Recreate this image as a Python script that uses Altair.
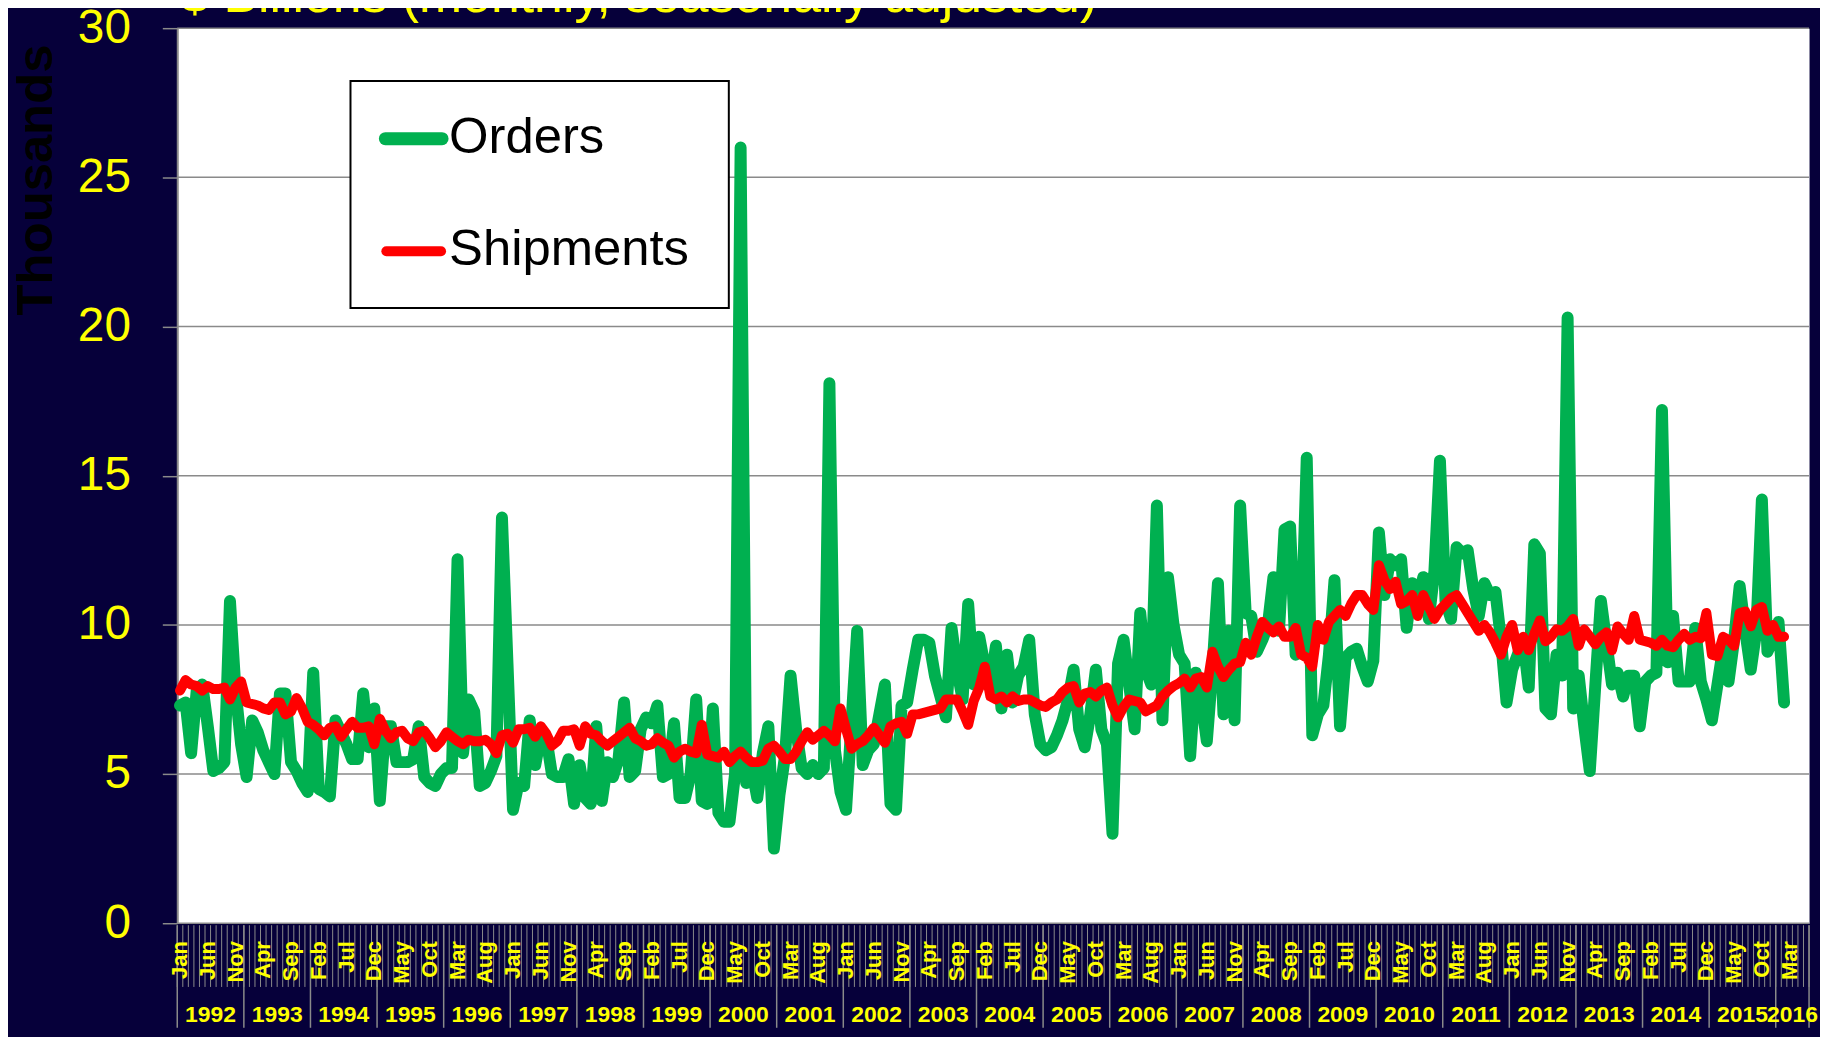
import altair as alt
import pandas as pd

# ---------------- data (monthly, Jan 1992 onward) ----------------
orders = [
    7.3, 7.4, 5.7, 7.8, 8.0, 6.6, 5.1, 5.2, 5.4, 10.8, 7.8, 6.0,      # 1992
    4.9, 6.8, 6.4, 5.8, 5.4, 5.0, 7.7, 7.7, 5.4, 5.1, 4.7, 4.4,       # 1993
    8.4, 4.5, 4.4, 4.25, 6.8, 6.4, 6.0, 5.5, 5.5, 7.7, 5.9, 7.2,      # 1994
    4.1, 6.6, 6.6, 5.4, 5.4, 5.4, 5.5, 6.6, 4.9, 4.7, 4.6, 5.0,       # 1995
    5.2, 5.2, 12.2, 5.7, 7.5, 7.1, 4.6, 4.7, 5.1, 5.6, 13.6, 8.7,     # 1996
    3.8, 4.7, 4.6, 6.8, 5.3, 6.3, 6.2, 5.0, 4.9, 4.9, 5.5, 4.0,       # 1997
    5.3, 4.2, 4.0, 6.6, 4.1, 5.4, 4.9, 5.5, 7.4, 4.9, 5.1, 6.5,       # 1998
    6.9, 6.7, 7.3, 4.9, 5.0, 6.7, 4.2, 4.2, 5.0, 7.5, 4.1, 4.0,       # 1999
    7.2, 3.7, 3.4, 3.4, 5.0, 26.0, 4.7, 5.2, 4.2, 5.7, 6.6, 2.5,      # 2000
    4.3, 5.6, 8.3, 6.5, 5.2, 5.0, 5.3, 5.0, 5.2, 18.1, 5.8, 4.4,      # 2001
    3.8, 6.8, 9.8, 5.3, 5.8, 6.0, 7.0, 8.0, 4.0, 3.8, 7.3, 7.4,       # 2002
    8.5, 9.5, 9.5, 9.4, 8.3, 7.6, 6.9, 9.9, 8.5, 7.5, 10.7, 8.0,      # 2003
    9.6, 8.6, 8.0, 9.3, 7.2, 9.0, 7.4, 8.3, 8.6, 9.5, 7.0, 6.0,       # 2004
    5.8, 5.9, 6.3, 6.8, 7.5, 8.5, 6.5, 5.9, 7.0, 8.5, 6.5, 6.0,       # 2005
    3.0, 8.7, 9.5, 8.0, 6.5, 10.4, 8.5, 8.0, 14.0, 6.8, 11.6, 10.0,   # 2006
    9.0, 8.7, 5.6, 8.4, 7.5, 6.1, 8.5, 11.4, 7.0, 9.8, 6.8, 14.0,     # 2007
    10.4, 10.3, 9.1, 9.5, 10.0, 11.6, 9.8, 13.2, 13.3, 9.0, 9.5, 15.6,  # 2008
    6.3, 7.0, 7.3, 9.0, 11.5, 6.6, 8.9, 9.1, 9.2, 8.6, 8.1, 8.8,      # 2009
    13.1, 11.0, 12.2, 12.0, 12.2, 9.9, 11.4, 10.8, 11.6, 10.2, 11.8, 15.5,  # 2010
    10.8, 10.2, 12.6, 12.4, 12.5, 11.2, 10.3, 11.4, 11.0, 11.1, 9.5, 7.4,   # 2011
    8.5, 9.0, 9.5, 7.9, 12.7, 12.4, 7.2, 7.0, 9.0, 8.3, 20.3, 7.2,    # 2012
    8.3, 6.6, 5.1, 8.0, 10.8, 9.4, 8.0, 8.4, 7.6, 8.3, 8.3, 6.6,      # 2013
    8.1, 8.3, 8.4, 17.2, 8.75, 10.3, 8.1, 8.1, 8.1, 9.9, 8.1, 7.5,    # 2014
    6.8, 8.0, 9.2, 8.1, 9.5, 11.3, 9.8, 8.5, 9.8, 14.2, 9.1, 9.5,     # 2015
    10.1, 7.4,                                                        # 2016
]

shipments = [
    7.8, 8.15, 8.0, 7.95, 7.8, 7.95, 7.85, 7.85, 7.9, 7.5, 7.9, 8.1,
    7.4, 7.35, 7.3, 7.2, 7.15, 7.4, 7.4, 7.0, 7.1, 7.55, 7.2, 6.75,
    6.65, 6.5, 6.3, 6.55, 6.6, 6.25, 6.5, 6.75, 6.55, 6.55, 6.6, 6.0,
    6.85, 6.45, 6.2, 6.4, 6.45, 6.2, 6.1, 6.4, 6.45, 6.2, 5.9, 6.1,
    6.4, 6.25, 6.1, 6.0, 6.15, 6.1, 6.1, 6.15, 6.0, 5.7, 6.3, 6.35,
    6.05, 6.5, 6.5, 6.55, 6.25, 6.6, 6.35, 5.95, 6.1, 6.45, 6.45, 6.5,
    5.95, 6.6, 6.35, 6.3, 6.1, 5.95, 6.1, 6.25, 6.4, 6.55, 6.2, 6.1,
    5.95, 6.0, 6.2, 6.05, 5.95, 5.55, 5.75, 5.85, 5.75, 5.7, 6.65, 5.65,
    5.6, 5.55, 5.75, 5.4, 5.6, 5.75, 5.55, 5.4, 5.4, 5.45, 5.85, 5.95,
    5.75, 5.5, 5.5, 5.75, 6.1, 6.4, 6.15, 6.3, 6.45, 6.3, 6.1, 7.2,
    6.5, 5.85, 6.0, 6.1, 6.3, 6.55, 6.3, 6.05, 6.6, 6.7, 6.75, 6.35,
    7.0, 7.0, 7.05, 7.1, 7.15, 7.2, 7.5, 7.5, 7.5, 7.1, 6.65, 7.45,
    7.9, 8.6, 7.6, 7.5, 7.6, 7.4, 7.6, 7.45, 7.5, 7.5, 7.4, 7.3,
    7.25, 7.4, 7.5, 7.75, 7.9, 7.95, 7.4, 7.7, 7.75, 7.6, 7.8, 7.9,
    7.3, 6.9, 7.25, 7.5, 7.45, 7.4, 7.1, 7.2, 7.3, 7.6, 7.8, 7.95,
    8.05, 8.2, 7.9, 8.2, 8.25, 7.9, 9.1, 8.6, 8.25, 8.5, 8.7, 8.75,
    9.4, 9.0, 9.6, 10.1, 9.9, 9.75, 9.95, 9.6, 9.6, 9.9, 9.0, 8.9,
    8.6, 10.0, 9.5, 10.1, 10.3, 10.5, 10.3, 10.7, 11.0, 11.0, 10.7, 10.5,
    12.0, 11.5, 11.2, 11.45, 10.7, 10.8, 11.0, 10.3, 11.0, 10.6, 10.2, 10.5,
    10.7, 10.9, 11.0, 10.7, 10.4, 10.1, 9.8, 10.0, 9.75, 9.4, 9.0, 9.6,
    10.0, 9.15, 9.6, 9.15, 9.7, 10.15, 9.45, 9.6, 9.85, 9.8, 9.95, 10.2,
    9.3, 9.85, 9.6, 9.35, 9.6, 9.75, 9.15, 9.95, 9.7, 9.5, 10.3, 9.5,
    9.45, 9.4, 9.3, 9.5, 9.3, 9.25, 9.5, 9.7, 9.5, 9.6, 9.55, 10.4,
    9.0, 8.95, 9.6, 9.5, 9.3, 10.4, 10.45, 9.95, 10.5, 10.6, 9.8, 10.0,
    9.6, 9.6,
]

series_names = ["Orders", "Shipments"]
month_names = ["Jan", "Feb", "Mar", "Apr", "May", "Jun",
               "Jul", "Aug", "Sep", "Oct", "Nov", "Dec"]
years = list(range(1992, 2017))
axis_months = 294          # Jan 1992 .. Jun 2016 on the category axis
label_every = 5
last_label_month = 290     # Mar 2016
y_ticks = [0, 5, 10, 15, 20, 25, 30]
title_text = "$ Billions (monthly, seasonally adjusted)"
y_title = "Thousands"

# ---------------- styling ----------------
NAVY = "#06003a"
YELLOW = "#ffff00"
GREEN = "#00b050"
RED = "#ff0000"
GRID = "#8a8a8a"
FONT = "Liberation Sans"
W, H = 1639, 899

df = pd.DataFrame({
    "x": [i + 0.5 for i in range(len(orders))],
    "orders": orders,
    "shipments": shipments,
})
ticks_df = pd.DataFrame({"x": list(range(axis_months + 1))})
sep_df = pd.DataFrame({"x": [12 * k for k in range(len(years)) if 12 * k < axis_months] + [axis_months]})
mlab_df = pd.DataFrame({
    "x": [i + 0.5 for i in range(0, last_label_month + 1, label_every)],
    "label": [month_names[i % 12] for i in range(0, last_label_month + 1, label_every)],
})
ylab_df = pd.DataFrame({
    "x": [(12 * k + min(12 * k + 12, axis_months)) / 2 for k in range(len(years))],
    "label": [str(y) for y in years],
})
grid_df = pd.DataFrame({"v": y_ticks})
one = pd.DataFrame({"a": [0]})

xs = alt.Scale(domain=[0, axis_months], nice=False, zero=False)
ys = alt.Scale(domain=[0, 30], nice=False, zero=True)

yaxis = alt.Axis(
    values=y_ticks, grid=False,
    domain=True, domainColor=GRID, domainWidth=2,
    ticks=True, tickColor=GRID, tickSize=15, tickWidth=1.5,
    labelColor=YELLOW, labelFont=FONT, labelFontSize=48, labelPadding=32,
    title=y_title, titleColor="#000000", titleFont=FONT, titleFontSize=51,
    titleFontWeight="bold", titleAngle=270, titleX=-141, titleY=152,
    titleAlign="center", titleBaseline="middle",
)

X = alt.X("x:Q", scale=xs, axis=None)

# horizontal gridlines (drawn as marks, also carry the y axis)
grid = alt.Chart(grid_df).mark_rule(color=GRID, strokeWidth=1.5).encode(
    y=alt.Y("v:Q", scale=ys, axis=yaxis), x=alt.value(0), x2=alt.value(W))

green = alt.Chart(df).mark_line(
    color=GREEN, strokeWidth=12, strokeCap="round", strokeJoin="round"
).encode(x=X, y=alt.Y("orders:Q", scale=ys))

red = alt.Chart(df).mark_line(
    color=RED, strokeWidth=10, strokeCap="round", strokeJoin="round"
).encode(x=X, y=alt.Y("shipments:Q", scale=ys))

month_ticks = alt.Chart(ticks_df).mark_rule(color=GRID, strokeWidth=1).encode(
    x=X, y=alt.value(H + 2), y2=alt.value(H + 64))
year_seps = alt.Chart(sep_df).mark_rule(color=GRID, strokeWidth=1.5).encode(
    x=X, y=alt.value(H + 2), y2=alt.value(H + 105))
month_labels = alt.Chart(mlab_df).mark_text(
    angle=270, align="right", baseline="middle", font=FONT, fontSize=22,
    fontWeight="bold", color=YELLOW
).encode(x=X, y=alt.value(H + 18), text="label:N")
year_labels = alt.Chart(ylab_df).mark_text(
    align="center", baseline="middle", font=FONT, fontSize=23,
    fontWeight="bold", color=YELLOW
).encode(x=X, y=alt.value(H + 92), text="label:N")

title = alt.Chart(one).mark_text(
    align="left", baseline="alphabetic", font=FONT, fontSize=52, color=YELLOW
).encode(x=alt.value(3), y=alt.value(-16), text=alt.value(title_text))

legend_box = alt.Chart(one).mark_rect(
    fill="white", stroke="black", strokeWidth=2
).encode(x=alt.value(174), x2=alt.value(554), y=alt.value(53), y2=alt.value(281))
leg_g = alt.Chart(one).mark_rule(color=GREEN, strokeWidth=13, strokeCap="round").encode(
    x=alt.value(209), x2=alt.value(266), y=alt.value(111))
leg_r = alt.Chart(one).mark_rule(color=RED, strokeWidth=10, strokeCap="round").encode(
    x=alt.value(210), x2=alt.value(265), y=alt.value(224))
leg_t1 = alt.Chart(one).mark_text(
    align="left", baseline="middle", font=FONT, fontSize=51, color="black"
).encode(x=alt.value(273), y=alt.value(110), text=alt.value(series_names[0]))
leg_t2 = alt.Chart(one).mark_text(
    align="left", baseline="middle", font=FONT, fontSize=51, color="black"
).encode(x=alt.value(273), y=alt.value(223), text=alt.value(series_names[1]))

chart = alt.layer(
    grid, green, red, month_ticks, year_seps, month_labels, year_labels, title,
    legend_box, leg_g, leg_r, leg_t1, leg_t2,
).properties(
    width=W, height=H,
    padding={"left": 170, "top": 18, "right": 11, "bottom": 112},
    autosize=alt.AutoSizeParams(type="none"),
    background=NAVY,
).configure_view(fill="white", stroke="transparent")

chart.save("out.html", embed_options={"renderer": "svg", "actions": False})
